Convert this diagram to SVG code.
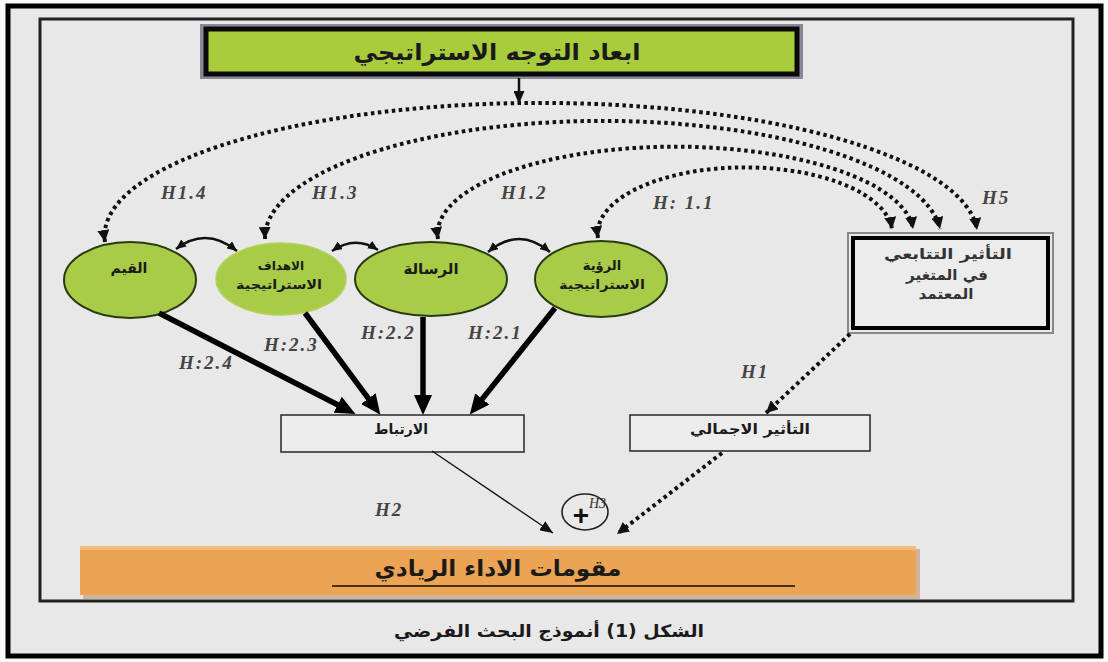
<svg xmlns="http://www.w3.org/2000/svg" width="1108" height="662" viewBox="0 0 1108 662">
<style>
.dot{fill:none;stroke:#111;stroke-width:4;stroke-dasharray:3.5 3.5}
.thick{fill:none;stroke:#000;stroke-width:5.5}
.curve{fill:none;stroke:#111;stroke-width:2.5}
.h{font-family:"Liberation Serif",serif;font-style:italic;font-weight:bold;font-size:19px;fill:#444;letter-spacing:2px}
.ar{font-family:"DejaVu Sans",sans-serif;font-weight:bold;text-anchor:middle;fill:#1a1a1a}
.arn{font-family:"DejaVu Sans",sans-serif;font-weight:bold;text-anchor:middle;fill:#333}
.ell{fill:#a8cc48;stroke:#2a3a10;stroke-width:2}
.box{fill:#ececec;stroke:#333;stroke-width:1.6}
</style>
<defs>
<marker id="ad" markerUnits="userSpaceOnUse" markerWidth="12" markerHeight="12" viewBox="0 0 12 12" refX="12" refY="6" orient="auto-start-reverse"><path d="M0,0 L12,6 L0,12 z" fill="#111"/></marker>
<marker id="at" markerUnits="userSpaceOnUse" markerWidth="20" markerHeight="18" viewBox="0 0 20 18" refX="6" refY="9" orient="auto"><path d="M0,0 L20,9 L0,18 z" fill="#000"/></marker>
<marker id="as" markerUnits="userSpaceOnUse" markerWidth="13" markerHeight="11" viewBox="0 0 13 11" refX="13" refY="5.5" orient="auto"><path d="M0,0 L13,5.5 L0,11 z" fill="#111"/></marker>
<marker id="ac" markerUnits="userSpaceOnUse" markerWidth="10" markerHeight="9" viewBox="0 0 10 9" refX="10" refY="4.5" orient="auto-start-reverse"><path d="M0,0 L10,4.5 L0,9 z" fill="#111"/></marker>
</defs>
<rect x="0" y="0" width="1108" height="662" fill="#fafafa"/>
<rect x="8" y="6" width="1093" height="650" fill="#e8e8e8" stroke="#000" stroke-width="5"/>
<rect x="40" y="19" width="1033" height="582" fill="#e8e8e8" stroke="#222" stroke-width="3"/>

<g id="top">
<rect x="200" y="24" width="603" height="55" fill="#8a8a96"/>
<rect x="206" y="29" width="591" height="45" fill="#a8cc3c" stroke="#0a0a0a" stroke-width="5"/>
<text class="ar" x="497" y="60" font-size="23" textLength="287" lengthAdjust="spacingAndGlyphs">ابعاد التوجه الاستراتيجي</text>
</g>

<g id="n-qiyam"><ellipse class="ell" cx="130" cy="280" rx="66" ry="38"/><text class="ar" x="129" y="273" font-size="14">القيم</text></g>
<g id="n-ahdaf"><ellipse cx="281" cy="279" rx="65" ry="36" fill="#a8cc48" stroke="#b5d060" stroke-width="1.5"/><text class="ar" x="281" y="270" font-size="12">الاهداف</text><text class="ar" x="279" y="289" font-size="12.5" textLength="86" lengthAdjust="spacingAndGlyphs">الاستراتيجية</text></g>
<g id="n-risala"><ellipse class="ell" cx="431" cy="279" rx="76" ry="37"/><text class="ar" x="431" y="274" font-size="15">الرسالة</text></g>
<g id="n-ruya"><ellipse class="ell" cx="601" cy="279" rx="66" ry="38"/><text class="ar" x="602" y="270" font-size="13">الرؤية</text><text class="ar" x="602" y="289" font-size="12.5" textLength="86" lengthAdjust="spacingAndGlyphs">الاستراتيجية</text></g>

<g id="n-tatabui">
<rect x="848" y="233" width="205" height="100" fill="none" stroke="#888" stroke-width="2"/>
<rect x="853" y="238" width="195" height="90" fill="#ececec" stroke="#000" stroke-width="4"/>
<text class="arn" x="948" y="259" font-size="15" textLength="128" lengthAdjust="spacingAndGlyphs">التأثير التتابعي</text>
<text class="arn" x="947" y="280" font-size="15" textLength="82" lengthAdjust="spacingAndGlyphs">في المتغير</text>
<text class="arn" x="946" y="299" font-size="15" textLength="55" lengthAdjust="spacingAndGlyphs">المعتمد</text>
</g>

<g id="n-irtibat"><rect class="box" x="281" y="415" width="243" height="37"/><text class="ar" x="401" y="434" font-size="14">الارتباط</text></g>
<g id="n-ijmali"><rect class="box" x="630" y="415" width="240" height="36"/><text class="ar" x="750" y="434" font-size="14" textLength="120" lengthAdjust="spacingAndGlyphs">التأثير الاجمالي</text></g>

<g id="n-plus">
<ellipse cx="585" cy="512" rx="23" ry="18" fill="none" stroke="#222" stroke-width="1.6"/>
<text x="581" y="525" font-family="Liberation Sans,sans-serif" font-weight="bold" font-size="28" text-anchor="middle" fill="#111">+</text>
<text x="589" y="508" font-family="Liberation Serif,serif" font-style="italic" font-size="14" fill="#333">H3</text>
</g>

<g id="n-result">
<rect x="83" y="549" width="837" height="50" fill="#b88050" opacity="0.5"/>
<rect x="80" y="546" width="836" height="49" fill="#eba354"/>
<rect x="80" y="546" width="836" height="4" fill="#f3bc80"/>
<text class="ar" x="498" y="576" font-size="22" textLength="247" lengthAdjust="spacingAndGlyphs">مقومات الاداء الريادي</text>
<line x1="332" y1="586" x2="795" y2="586" stroke="#4a3010" stroke-width="2"/>
</g>

<g id="connectors">
<line x1="519" y1="78" x2="519" y2="104" stroke="#111" stroke-width="2.5" marker-end="url(#as)"/>
<path class="dot" d="M105,242 A436,133 0 0 1 977,230" marker-start="url(#ad)" marker-end="url(#ad)"/>
<path class="dot" d="M265,239 A338,117 0 0 1 940,229" marker-start="url(#ad)" marker-end="url(#ad)"/>
<path class="dot" d="M438,239 A237,87 0 0 1 913,229" marker-start="url(#ad)" marker-end="url(#ad)"/>
<path class="dot" d="M598,238 A147,66 0 0 1 892,229" marker-start="url(#ad)" marker-end="url(#ad)"/>
<path class="curve" d="M176,249 Q206,226 237,251" marker-start="url(#ac)" marker-end="url(#ac)"/>
<path class="curve" d="M332,251 Q355,235 378,250" marker-start="url(#ac)" marker-end="url(#ac)"/>
<path class="curve" d="M488,252 Q519,226 550,252" marker-start="url(#ac)" marker-end="url(#ac)"/>
<line class="thick" x1="159" y1="313" x2="343" y2="407.5" marker-end="url(#at)"/>
<line class="thick" x1="305" y1="313" x2="372" y2="403.4" marker-end="url(#at)"/>
<line class="thick" x1="423" y1="317" x2="423" y2="401" marker-end="url(#at)"/>
<line class="thick" x1="555" y1="308" x2="478.5" y2="403.6" marker-end="url(#at)"/>
<path class="dot" d="M850,334 L766,413" marker-end="url(#ad)"/>
<path class="dot" d="M722,453 L617,534" marker-end="url(#ad)"/>
<line x1="432" y1="451" x2="553" y2="533" stroke="#111" stroke-width="1.3" marker-end="url(#as)"/>
</g>

<g id="labels">
<text class="h" x="161" y="199">H1.4</text>
<text class="h" x="312" y="199">H1.3</text>
<text class="h" x="501" y="199">H1.2</text>
<text class="h" x="653" y="209">H: 1.1</text>
<text class="h" x="982" y="204">H5</text>
<text class="h" x="179" y="369">H:2.4</text>
<text class="h" x="264" y="351">H:2.3</text>
<text class="h" x="361" y="339">H:2.2</text>
<text class="h" x="468" y="339">H:2.1</text>
<text class="h" x="741" y="378">H1</text>
<text class="h" x="375" y="516">H2</text>
</g>

<text class="ar" x="549" y="637" font-size="17" textLength="310" lengthAdjust="spacingAndGlyphs">الشكل (1) أنموذج البحث الفرضي</text>
</svg>
